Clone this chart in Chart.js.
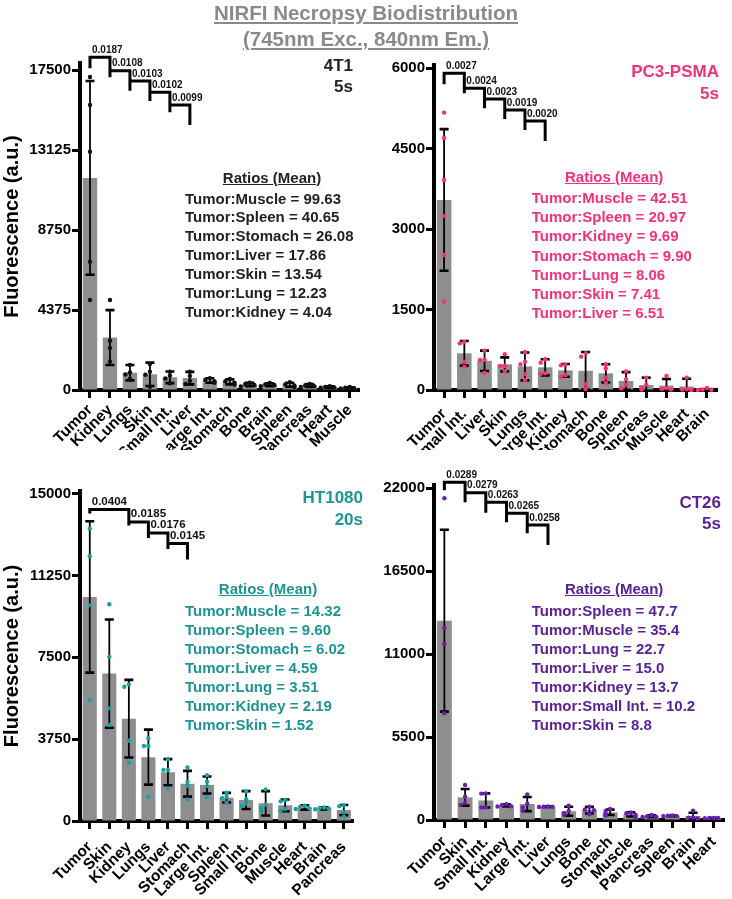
<!DOCTYPE html>
<html><head><meta charset="utf-8">
<script src="https://cdn.jsdelivr.net/npm/chart.js@4.4.1/dist/chart.umd.min.js"></script>
<style>
body{margin:0;background:#fff;}
#page{position:relative;width:732px;height:899px;overflow:hidden;font-family:"Liberation Sans",Arial,sans-serif;font-weight:bold;}
canvas{position:absolute;}
.t{position:absolute;white-space:nowrap;}
.u{text-decoration:underline;}
</style></head><body>
<div id="page">
<canvas id="c1" width="366" height="450" style="left:0;top:0"></canvas>
<canvas id="c2" width="366" height="450" style="left:366px;top:0"></canvas>
<canvas id="c3" width="366" height="449" style="left:0;top:450px"></canvas>
<canvas id="c4" width="366" height="449" style="left:366px;top:450px"></canvas>
</div>
<script>
// ---------- DATA ----------
const titleLines = ['NIRFI Necropsy Biodistribution', '(745nm Exc., 840nm Em.)'];
const yAxisTitle = 'Fluorescence (a.u.)';

// 4T1
const labels4T1 = ['Tumor','Kidney','Lungs','Skin','Small Int.','Liver','Large Int.','Stomach','Bone','Brain','Spleen','Pancreas','Heart','Muscle'];
const mean4T1 = [11600, 2870, 948, 857, 695, 650, 520, 445, 300, 290, 285, 240, 160, 116];
const sd4T1 = [5300, 1500, 420, 640, 320, 340, 120, 135, 90, 80, 110, 80, 45, 35];
const dots4T1 = [[17120,15590,13030,7020,4920],[4920,2700,2300,1560],[1370,960,850,610],[1420,1000,830,180],[1000,780,630,370],[1000,770,500,330],[650,560,480,390],[600,480,400,300],[400,330,270,200],[380,310,270,210],[420,310,250,160],[330,260,210,160],[210,170,140,120],[160,120,100,85]];
const yTicks4T1 = [0, 4375, 8750, 13125, 17500];
const pFrom4T1 = [0,1,2,3,4];
const pTo4T1 = [1,2,3,4,5];
const pLevel4T1 = [18194, 17462, 16898, 16280, 15586];
const pText4T1 = ['0.0187','0.0108','0.0103','0.0102','0.0099'];
const name4T1 = ['4T1','5s'];
const ratios4T1 = ['Tumor:Muscle = 99.63','Tumor:Spleen = 40.65','Tumor:Stomach = 26.08','Tumor:Liver = 17.86','Tumor:Skin = 13.54','Tumor:Lung = 12.23','Tumor:Kidney = 4.04'];

// PC3-PSMA
const labelsPC3 = ['Tumor','Small Int.','Liver','Skin','Lungs','Large Int.','Kidney','Stomach','Bone','Spleen','Pancreas','Muscle','Heart','Brain'];
const meanPC3 = [3544, 684, 544, 478, 440, 423, 366, 358, 311, 169, 93, 83, 65, 14];
const sdPC3 = [1320, 230, 190, 130, 260, 150, 120, 350, 170, 165, 137, 122, 145, 0];
const dotsPC3 = [[5172,4700,3917,3245,2517,1647],[895,870,528,435],[733,560,560,323],[666,448,448,350],[709,530,479,298,187],[572,510,310,300],[470,460,280,250],[684,622,106,20],[480,400,230,130],[348,200,100,30],[230,100,30,10],[261,40,20,10],[230,20,10,0],[40,10,5,0]];
const yTicksPC3 = [0, 1500, 3000, 4500, 6000];
const pFromPC3 = [0,1,2,3,4];
const pToPC3 = [1,2,3,4,5];
const pLevelPC3 = [5907, 5627, 5427, 5222, 5017];
const pTextPC3 = ['0.0027','0.0024','0.0023','0.0019','0.0020'];
const namePC3 = ['PC3-PSMA','5s'];
const ratiosPC3 = ['Tumor:Muscle = 42.51','Tumor:Spleen = 20.97','Tumor:Kidney = 9.69','Tumor:Stomach = 9.90','Tumor:Lung = 8.06','Tumor:Skin = 7.41','Tumor:Liver = 6.51'];

// HT1080
const labelsHT = ['Tumor','Skin','Kidney','Lungs','Liver','Stomach','Large Int.','Spleen','Small Int.','Bone','Muscle','Heart','Brain','Pancreas'];
const meanHT = [10267, 6754, 4688, 2925, 2237, 1705, 1648, 1069, 961, 810, 717, 620, 580, 500];
const sdHT = [3470, 2480, 1780, 1260, 600, 590, 390, 220, 410, 560, 270, 100, 50, 230];
const dotsHT = [[13396,12130,9886,5539],[9932,7520,5160,4400],[6260,6148,3675,2669],[3785,3433,3433,1113],[2838,2334,2334,1497],[2457,1800,1600,991],[2100,1800,1600,1100],[1300,1100,1050,830],[1350,1000,800,700],[1450,750,600,450],[950,900,550,470],[700,650,580,550],[620,600,560,540],[720,680,400,200]];
const yTicksHT = [0, 3750, 7500, 11250, 15000];
const pFromHT = [0,2,3,4];
const pToHT = [2,3,4,5];
const pLevelHT = [14267, 13699, 13196, 12711];
const pTextHT = ['0.0404','0.0185','0.0176','0.0145'];
const nameHT = ['HT1080','20s'];
const ratiosHT = ['Tumor:Muscle = 14.32','Tumor:Spleen = 9.60','Tumor:Stomach = 6.02','Tumor:Liver = 4.59','Tumor:Lung = 3.51','Tumor:Kidney = 2.19','Tumor:Skin = 1.52'];

// CT26
const labelsCT = ['Tumor','Skin','Small Int.','Kidney','Large Int.','Liver','Lungs','Bone','Stomach','Muscle','Pancreas','Spleen','Brain','Heart'];
const meanCT = [13219, 1502, 1296, 965, 1060, 881, 582, 652, 507, 373, 250, 277, 262, 130];
const sdCT = [6030, 550, 470, 70, 470, 20, 300, 220, 180, 140, 70, 20, 220, 10];
const dotsCT = [[21337,12755,11650,7077],[2322,1547,1150,990],[1760,1750,850,830],[1050,1000,910,900],[1700,1080,840,620],[900,880,880,865],[950,600,450,330],[880,700,650,380],[730,600,400,300],[500,450,350,190],[330,250,220,200],[300,290,260,260],[620,170,160,100],[140,130,130,120]];
const yTicksCT = [0, 5500, 11000, 16500, 22000];
const pFromCT = [0,1,2,3,4];
const pToCT = [1,2,3,4,5];
const pLevelCT = [22397, 21707, 21070, 20340, 19565];
const pTextCT = ['0.0289','0.0279','0.0263','0.0265','0.0258'];
const nameCT = ['CT26','5s'];
const ratiosCT = ['Tumor:Spleen = 47.7','Tumor:Muscle = 35.4','Tumor:Lung = 22.7','Tumor:Liver = 15.0','Tumor:Kidney = 13.7','Tumor:Small Int. = 10.2','Tumor:Skin = 8.8'];

// ---------- DRAWING ----------
const FONT = '"Liberation Sans", Arial, sans-serif';

const annot = {
  id: 'annot',
  afterDatasetsDraw(chart, args, o) {
    const ctx = chart.ctx, xs = chart.scales.x, ys = chart.scales.y;
    const ds = chart.data.datasets[0];
    ctx.save();
    ctx.strokeStyle = '#000';
    // error bars
    ds.data.forEach((m, i) => {
      const s = ds.sdVals[i];
      if (!s) return;
      const cx = xs.getPixelForValue(i);
      const yt = ys.getPixelForValue(m + s);
      const lo = m - s;
      const yb = ys.getPixelForValue(Math.max(lo, 0));
      ctx.lineWidth = 1.8;
      ctx.beginPath(); ctx.moveTo(cx, yt); ctx.lineTo(cx, yb); ctx.stroke();
      ctx.lineWidth = 2.6;
      ctx.beginPath();
      ctx.moveTo(cx - o.cap, yt); ctx.lineTo(cx + o.cap, yt);
      if (lo > 0) { ctx.moveTo(cx - o.cap, yb); ctx.lineTo(cx + o.cap, yb); }
      ctx.stroke();
    });
    // individual points
    ctx.fillStyle = o.dotColor;
    const offs = [0, -4.5, 4.5, -9, 9];
    ds.dotVals.forEach((arr, i) => {
      const cx = xs.getPixelForValue(i);
      const placed = [];
      arr.forEach(v => {
        const py = ys.getPixelForValue(v);
        const n = placed.filter(q => Math.abs(q - py) < 4).length;
        placed.push(py);
        ctx.beginPath(); ctx.arc(cx + offs[Math.min(n, 4)], py, o.dotR, 0, Math.PI * 2); ctx.fill();
      });
    });
    // significance brackets
    ctx.lineWidth = 3;
    ctx.lineJoin = 'miter';
    ctx.fillStyle = '#111';
    ctx.font = 'bold ' + o.pFont + 'px ' + FONT;
    ctx.textBaseline = 'bottom';
    ctx.textAlign = 'left';
    ds.brFrom.forEach((f, k) => {
      const x1 = xs.getPixelForValue(f), x2 = xs.getPixelForValue(ds.brTo[k]);
      const yl = ys.getPixelForValue(ds.brLevel[k]);
      ctx.beginPath();
      if (k === 0) { ctx.moveTo(x1, yl + o.firstDrop); ctx.lineTo(x1, yl); } else { ctx.moveTo(x1, yl); }
      ctx.lineTo(x2, yl);
      ctx.lineTo(x2, yl + o.drop);
      ctx.stroke();
      ctx.fillText(ds.brText[k], x1 + 2, yl - 2);
    });
    ctx.restore();
  }
};

function makeChart(id, c) {
  const axisFont = { family: FONT, weight: 'bold' };
  return new Chart(document.getElementById(id), {
    type: 'bar',
    data: {
      labels: c.labels,
      datasets: [{
        data: c.mean, backgroundColor: '#8e8e8e', barPercentage: 0.72, categoryPercentage: 1,
        sdVals: c.sd, dotVals: c.dots, brFrom: c.pFrom, brTo: c.pTo, brLevel: c.pLevel, brText: c.pText
      }]
    },
    options: {
      responsive: false, animation: false,
      layout: { padding: { top: c.padTop, right: c.padRight, left: 0, bottom: 0 } },
      plugins: {
        legend: { display: false }, tooltip: { enabled: false },
        annot: { dotColor: c.dotColor, dotR: 2.2, cap: 4.5, pFont: c.pFont, drop: c.drop, firstDrop: c.firstDrop }
      },
      scales: {
        x: {
          z: 1,
          border: { display: true, color: '#000', width: 4 },
          grid: { display: true, drawOnChartArea: false, drawTicks: true, tickLength: 8, tickWidth: 3, tickColor: '#000', offset: false },
          ticks: { autoSkip: false, maxRotation: 45, minRotation: 45, color: '#000', padding: c.xPad, font: Object.assign({ size: 15.5 }, axisFont) },
          afterFit: s => { s.height = c.xH; }
        },
        y: {
          z: 1, min: 0, max: c.yMax,
          border: { display: true, color: '#000', width: 4 },
          grid: { display: true, drawOnChartArea: false, drawTicks: true, tickLength: 8, tickWidth: 3, tickColor: '#000' },
          ticks: { color: '#000', padding: 1, font: Object.assign({ size: 15 }, axisFont), callback: v => String(v) },
          afterBuildTicks: s => { s.ticks = c.yTicks.map(v => ({ value: v })); },
          afterFit: s => { s.width = c.yW; },
          title: c.yTitle ? { display: true, text: yAxisTitle, color: '#000', font: Object.assign({ size: 20 }, axisFont), padding: { top: 0, bottom: 0 } } : { display: false }
        }
      }
    },
    plugins: [annot]
  });
}

makeChart('c1', { labels: labels4T1, mean: mean4T1, sd: sd4T1, dots: dots4T1, yTicks: yTicks4T1, pFrom: pFrom4T1, pTo: pTo4T1, pLevel: pLevel4T1, pText: pText4T1,
  yMax: 17883, padTop: 63, padRight: 4, yW: 80, xH: 60, xPad: 3, yTitle: true, dotColor: '#111', pFont: 10, drop: 20, firstDrop: 11 });
makeChart('c2', { labels: labelsPC3, mean: meanPC3, sd: sdPC3, dots: dotsPC3, yTicks: yTicksPC3, pFrom: pFromPC3, pTo: pToPC3, pLevel: pLevelPC3, pText: pTextPC3,
  yMax: 6060, padTop: 65, padRight: 15, yW: 68, xH: 60, xPad: 7, yTitle: false, dotColor: '#ff2d7a', pFont: 10, drop: 20, firstDrop: 11 });
makeChart('c3', { labels: labelsHT, mean: meanHT, sd: sdHT, dots: dotsHT, yTicks: yTicksHT, pFrom: pFromHT, pTo: pToHT, pLevel: pLevelHT, pText: pTextHT,
  yMax: 15120, padTop: 41, padRight: 1, yW: 80, xH: 78, xPad: 9, yTitle: true, dotColor: '#1aa0a0', pFont: 11.5, drop: 16, firstDrop: 4 });
makeChart('c4', { labels: labelsCT, mean: meanCT, sd: sdCT, dots: dotsCT, yTicks: yTicksCT, pFrom: pFromCT, pTo: pToCT, pLevel: pLevelCT, pText: pTextCT,
  yMax: 22220, padTop: 35, padRight: 3, yW: 68, xH: 79, xPad: 5, yTitle: false, dotColor: '#6a1fb0', pFont: 10, drop: 20, firstDrop: 8 });

// ---------- TEXT OVERLAYS ----------
const page = document.getElementById('page');
function addText(html, style, cls) {
  const d = document.createElement('div');
  d.className = 't' + (cls ? ' ' + cls : '');
  Object.assign(d.style, style);
  d.innerHTML = html;
  page.appendChild(d);
  return d;
}
addText(titleLines.map(s => '<span class="u">' + s + '</span>').join('<br>'),
  { left: '0px', top: '0px', width: '732px', textAlign: 'center', fontSize: '20.5px', lineHeight: '26px', color: '#8a8a8a' });

function panelText(name, ratios, color, nameRight, nameTop, nameLH, rLeft, rWidth, hTop, lTop, lLH) {
  addText(name.join('<br>'), { right: nameRight + 'px', top: nameTop + 'px', textAlign: 'right', fontSize: '17px', lineHeight: nameLH + 'px', color: color });
  addText('<span class="u">Ratios (Mean)</span>', { left: rLeft + 'px', top: hTop + 'px', width: rWidth + 'px', textAlign: 'center', fontSize: '15px', lineHeight: '19px', color: color });
  addText(ratios.join('<br>'), { left: rLeft + 'px', top: lTop + 'px', fontSize: '15px', lineHeight: lLH + 'px', color: color });
}
panelText(name4T1, ratios4T1, '#222', 379, 56.4, 20.6, 185, 174, 167.5, 189.6, 18.83);
panelText(namePC3, ratiosPC3, '#f5307c', 13, 61, 22, 531.7, 165, 166.5, 188.1, 19.17);
panelText(nameHT, ratiosHT, '#1e9494', 369, 487, 22, 185, 166, 578.8, 600.5, 19);
panelText(nameCT, ratiosCT, '#5a2296', 11, 491.5, 21, 531.7, 165, 578.8, 600.5, 19);
</script>
</body></html>
